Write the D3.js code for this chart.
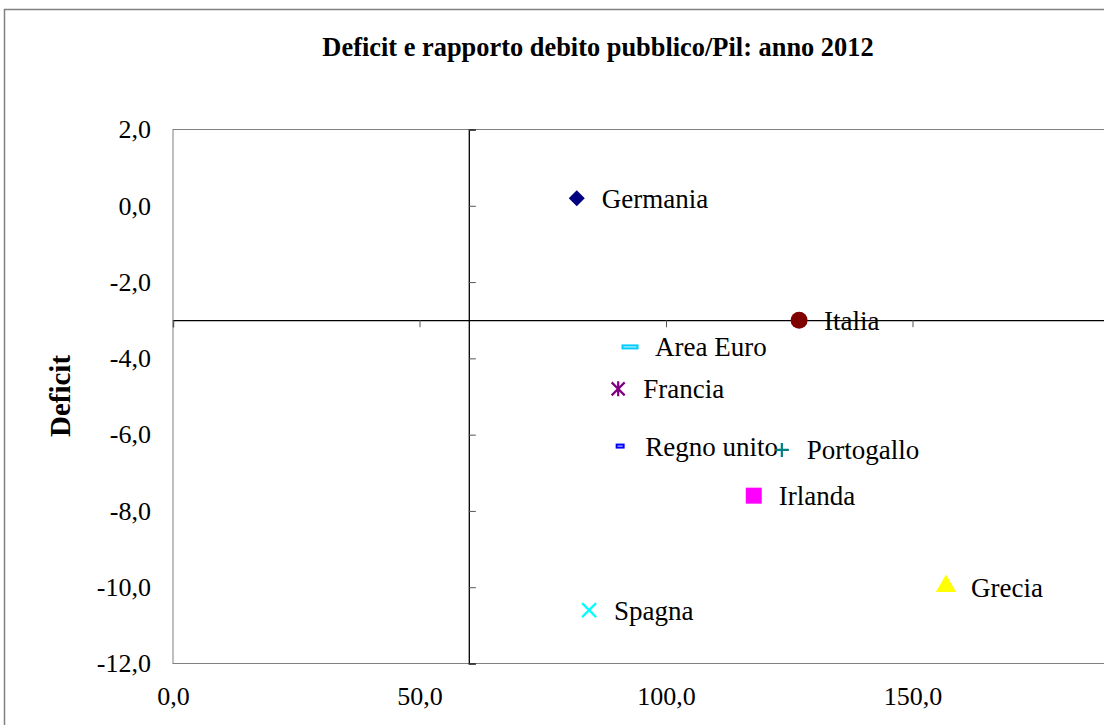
<!DOCTYPE html>
<html>
<head>
<meta charset="utf-8">
<script src="https://cdn.jsdelivr.net/npm/d3@7"></script>
<style>
  body { margin:0; background:#fff; }
  svg text { font-family:"Liberation Serif","Times New Roman",serif; fill:#000; }
</style>
</head>
<body>
<div id="chart"></div>
<script>
// dati: rapporto debito/Pil (x) e deficit (y), anno 2012
var paesi   = ["Germania","Italia","Area Euro","Francia","Regno unito","Portogallo","Irlanda","Grecia","Spagna"];
var debito  = [81.9, 127.0, 92.7, 90.3, 90.7, 123.5, 117.8, 156.8, 84.4];
var deficit = [0.2, -3.0, -3.7, -4.8, -6.3, -6.4, -7.6, -10.0, -10.6];
var simboli = ["diamond","circle","bar","asterisk","smallbar","plus","square","triangle","cross"];
var colori  = ["#000080","#800000","#00CCFF","#800080","#0000FF","#008080","#FF00FF","#FFFF00","#00FFFF"];

var x_ticks = [0, 50, 100, 150];
var y_ticks = [2, 0, -2, -4, -6, -8, -10, -12];
var x_cross = 60;   // l'asse verticale incrocia a 60
var y_cross = -3;   // l'asse orizzontale incrocia a -3
var titolo = "Deficit e rapporto debito pubblico/Pil: anno 2012";

var width = 1104, height = 725;
var svg = d3.select("#chart").append("svg").attr("width",width).attr("height",height);

var x = d3.scaleLinear().domain([0,200]).range([173, 1159]);
var y = d3.scaleLinear().domain([-12,2]).range([663.5, 129.5]);

var fmt = function(d){ return d3.format(".1f")(d).replace(".",",").replace("−","-"); };

// bordo del grafico
svg.append("rect")
  .attr("x",4.5).attr("y",9.5).attr("width",1200).attr("height",800)
  .style("fill","none").style("stroke","#808080").style("stroke-width","1.5px");

// area del tracciato
svg.append("rect")
  .attr("x",x(0)).attr("y",y(2)).attr("width",x(200)-x(0)).attr("height",y(-12)-y(2))
  .style("fill","none").style("stroke","#808080").style("stroke-width","1px");

svg.append("text")
  .attr("x",598).attr("y",56)
  .attr("text-anchor","middle")
  .style("font-size","26.4px").style("font-weight","bold")
  .text(titolo);

// asse orizzontale (tacche sulla linea di incrocio)
var gx = svg.append("g").attr("transform","translate(0,"+y(y_cross)+")")
  .call(d3.axisBottom(x).tickValues(x_ticks).tickSize(7).tickFormat(""));
gx.select(".domain").style("stroke","#000").style("stroke-width","1.3px");
gx.selectAll(".tick line").style("stroke","#555");

// etichette dell'asse orizzontale in basso
var gxl = svg.append("g").attr("transform","translate(0,"+(y(-12)+20)+")")
  .call(d3.axisBottom(x).tickValues(x_ticks).tickSize(0).tickFormat(fmt));
gxl.select(".domain").remove();
gxl.selectAll("text").style("font-size","26px").attr("dy","0.71em")
  .style("font-family","Liberation Serif");

// asse verticale
var gy = svg.append("g").attr("transform","translate("+x(x_cross)+",0)")
  .call(d3.axisRight(y).tickValues(y_ticks).tickSize(7).tickFormat(""));
gy.select(".domain").style("stroke","#000").style("stroke-width","1.3px");
gy.selectAll(".tick line").style("stroke","#555");

var gyl = svg.append("g").attr("transform","translate(151,0)")
  .call(d3.axisLeft(y).tickValues(y_ticks).tickSize(0).tickFormat(fmt));
gyl.select(".domain").remove();
gyl.selectAll("text").style("font-size","26px").attr("x",0)
  .style("font-family","Liberation Serif");

svg.append("text")
  .attr("transform","translate(60,396) rotate(-90)")
  .attr("text-anchor","middle").attr("dy","0.35em")
  .style("font-size","29px").style("font-weight","bold")
  .text("Deficit");

// punti
var punti = svg.selectAll("g.punto").data(paesi).enter().append("g")
  .attr("class","punto")
  .attr("transform",function(d,i){ return "translate("+x(debito[i])+","+y(deficit[i])+")"; });

punti.each(function(d,i){
  var g = d3.select(this), c = colori[i], s = simboli[i];
  if (s=="diamond") {
    g.append("path").attr("d",d3.symbol().type(d3.symbolSquare).size(128)())
      .attr("transform","rotate(45)").style("fill",c);
  } else if (s=="circle") {
    g.append("path").attr("d",d3.symbol().type(d3.symbolCircle).size(227)()).style("fill",c);
  } else if (s=="square") {
    g.append("path").attr("d",d3.symbol().type(d3.symbolSquare).size(256)()).style("fill",c);
  } else if (s=="triangle") {
    g.append("path").attr("d",d3.symbol().type(d3.symbolTriangle).size(180)())
      .attr("transform","translate(0,-1)").style("fill",c);
  } else if (s=="bar") {
    g.append("rect").attr("x",-7.5).attr("y",-1.5).attr("width",15).attr("height",3)
      .style("fill","#d8f6ff").style("stroke",c).style("stroke-width","2px");
  } else if (s=="smallbar") {
    g.append("rect").attr("x",-3.5).attr("y",-1.5).attr("width",7).attr("height",3)
      .style("fill","#e0e0ff").style("stroke",c).style("stroke-width","2px");
  } else if (s=="plus") {
    g.append("path").attr("d","M-7,0H7M0,-7V7").style("stroke",c).style("stroke-width","2.2px");
  } else if (s=="cross") {
    g.append("path").attr("d","M-7,-7L7,7M-7,7L7,-7").style("stroke",c).style("stroke-width","2.2px");
  } else if (s=="asterisk") {
    g.append("path").attr("d","M-6.5,-6.5L6.5,6.5M-6.5,6.5L6.5,-6.5M0,-7.5V7.5").style("stroke",c).style("stroke-width","2.2px");
  }
  g.append("text").attr("x",25).attr("dy","0.35em")
    .style("font-size","27px").text(d);
});
</script>
</body>
</html>
